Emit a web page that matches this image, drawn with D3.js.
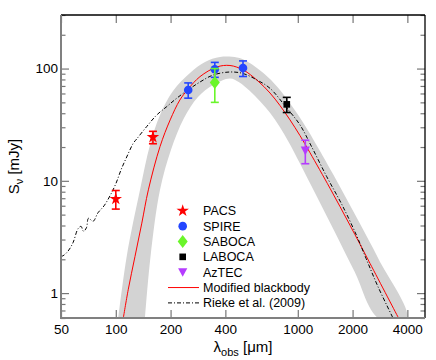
<!DOCTYPE html>
<html>
<head>
<meta charset="utf-8">
<script src="https://cdn.jsdelivr.net/npm/d3@7/dist/d3.min.js"></script>
<style>
body { margin: 0; background: #fff; }
text { font-family: "Liberation Sans", Arial, Helvetica, sans-serif; fill: #000; }
</style>
</head>
<body>
<div id="chart"></div>
<script>
//Datos fotométricos (longitud de onda en micras, flujo y error en mJy)
const pacsWave = [100, 160], pacsFlux = [6.9, 24.5], pacsErr = [1.3, 3.1];
const spireWave = [250, 350, 500], spireFlux = [64.5, 98.5, 101], spireErr = [10, 15, 16];
const sabocaWave = [350], sabocaFlux = [75], sabocaErr = [25];
const labocaWave = [870], labocaFlux = [48], labocaErr = [7.4];
const aztecWave = [1100], aztecFlux = [18.6], aztecErr = [4.4];

//Cuerpo negro modificado
const bbWave = [110, 117, 127.5, 139, 151, 175, 199, 225, 250, 290, 359, 424, 502, 604, 703.5, 798, 906, 1028, 1167, 1503, 1936, 2493, 3576];
const bbFlux = [0.6, 1.07, 2.12, 4.2, 8.31, 20.2, 34.9, 52.5, 65.8, 84.7, 103.3, 106.5, 97.1, 77.5, 60.6, 46.9, 34.9, 25.3, 17.8, 8.59, 4.02, 1.84, 0.6];

//Banda de incertidumbre: borde superior e inferior
const bandUpWave = [103.2, 114.8, 135.9, 154.2, 175, 206.2, 255.7, 309.2, 373.8, 463.4, 522, 654, 771, 879, 1001, 1140, 1295, 1670, 2153, 2773, 3967];
const bandUpFlux = [0.6, 2.12, 8.31, 20.9, 38.6, 63.1, 91.3, 114.4, 126.7, 125.4, 116.8, 89.8, 68.8, 52.6, 38.9, 27.9, 19.6, 9.44, 4.4, 2.02, 0.6];
const bandLowWave = [144.7, 155.2, 175, 201.1, 237.1, 282.9, 342.2, 424, 476, 544, 622, 703.5, 795, 894, 1001, 1266, 1610, 2050, 2776];
const bandLowFlux = [0.6, 2.12, 8.31, 18.9, 36.3, 55.9, 71.4, 81.6, 75.5, 63.3, 50.9, 40.3, 30.3, 22, 15.5, 7.38, 3.42, 1.56, 0.6];

//Plantilla Rieke et al. (2009)
const riekeWave = [50, 51.3, 54.6, 58.2, 62, 64.4, 66.5, 69, 70.8, 75, 79.8, 86.2, 92.9, 100, 106.8, 114.8, 124.8, 130.3, 147.8, 167.9, 190.5, 216.1, 249.3, 290.2, 343.4, 424, 500, 597, 703.5, 869, 1028, 1190, 1442, 1750, 2107, 2371, 2759, 3335];
const riekeFlux = [2.13, 2.15, 2.36, 2.81, 3.74, 3.93, 3.55, 3.82, 4.64, 4.36, 5.19, 5.99, 7.35, 9.4, 12.5, 16.3, 21.6, 23.6, 30.4, 38.6, 45.8, 54.4, 64.5, 75.9, 87.7, 93.2, 90.4, 79.1, 66.7, 44.6, 31.5, 20.2, 10.9, 6.11, 3.24, 2.04, 1.14, 0.6];

//Ejes
const xTicks = [50, 100, 200, 400, 1000, 2000, 4000];
const yMajor = [1, 10, 100];
const yMinor = [0.6, 0.7, 0.8, 0.9, 2, 3, 4, 5, 6, 7, 8, 9, 20, 30, 40, 50, 60, 70, 80, 90, 200, 300];

const legendLabels = ['PACS', 'SPIRE', 'SABOCA', 'LABOCA', 'AzTEC', 'Modified blackbody', 'Rieke et al. (2009)'];

const COLOR_PACS = '#ff0000', COLOR_SPIRE = '#2346ff', COLOR_SABOCA = '#6af52a',
    COLOR_LABOCA = '#000000', COLOR_AZTEC = '#b53cff', COLOR_BAND = '#d3d3d3';

let margin = {top: 15, right: 11, bottom: 42, left: 61},
    width = 436 - margin.left - margin.right,
    height = 360 - margin.top - margin.bottom;

let root = d3.select('#chart')
    .append('svg')
        .attr('width', 436)
        .attr('height', 360);

let svg = root.append('g')
    .attr('transform', 'translate(' + margin.left + ',' + margin.top + ')');

let x = d3.scaleLog().domain([50, 5000]).range([0, width]);
let y = d3.scaleLog().domain([0.6, 300]).range([height, 0]);

svg.append('clipPath').attr('id', 'clip')
    .append('rect').attr('width', width).attr('height', height);

let plot = svg.append('g').attr('clip-path', 'url(#clip)');

let line = d3.line()
    .x(function(d) { return x(d[0]); })
    .y(function(d) { return y(d[1]); })
    .curve(d3.curveCatmullRom);

//Banda gris
let bandPts = d3.zip(bandUpWave, bandUpFlux).concat(d3.zip(bandLowWave, bandLowFlux).reverse());
plot.append('path')
    .attr('d', line(bandPts) + 'Z')
    .attr('fill', COLOR_BAND)
    .attr('stroke', 'none');

//Cuerpo negro
plot.append('path')
    .attr('d', line(d3.zip(bbWave, bbFlux)))
    .attr('fill', 'none')
    .attr('stroke', '#ff0000')
    .attr('stroke-width', 1);

//Rieke
plot.append('path')
    .attr('d', line(d3.zip(riekeWave, riekeFlux)))
    .attr('fill', 'none')
    .attr('stroke', '#000')
    .attr('stroke-width', 1)
    .attr('stroke-dasharray', '4,2,1,2');

//Simbolos
let symStar = d3.symbol(d3.symbolStar, 48)(),
    symCircle = d3.symbol(d3.symbolCircle, 58)(),
    symDiamond = 'M0,-6.5L5,0L0,6.5L-5,0Z',
    symSquare = d3.symbol(d3.symbolSquare, 44)(),
    symTriangle = 'M-4.6,-4L4.6,-4L0,4.6Z';

let series = [
    {wave: pacsWave, flux: pacsFlux, err: pacsErr, color: COLOR_PACS, sym: symStar},
    {wave: spireWave, flux: spireFlux, err: spireErr, color: COLOR_SPIRE, sym: symCircle},
    {wave: sabocaWave, flux: sabocaFlux, err: sabocaErr, color: COLOR_SABOCA, sym: symDiamond},
    {wave: labocaWave, flux: labocaFlux, err: labocaErr, color: COLOR_LABOCA, sym: symSquare},
    {wave: aztecWave, flux: aztecFlux, err: aztecErr, color: COLOR_AZTEC, sym: symTriangle}
];

series.forEach(function(s) {
    let pts = s.wave.map(function(w, i) { return {w: w, f: s.flux[i], e: s.err[i]}; });
    let g = svg.append('g').selectAll('g')
        .data(pts)
        .enter()
        .append('g')
        .attr('transform', function(d) { return 'translate(' + x(d.w) + ',0)'; });

    g.append('line')
        .attr('x1', 0).attr('x2', 0)
        .attr('y1', function(d) { return y(d.f - d.e); })
        .attr('y2', function(d) { return y(d.f + d.e); })
        .attr('stroke', s.color).attr('stroke-width', 1.6);
    g.append('line')
        .attr('x1', -4).attr('x2', 4)
        .attr('y1', function(d) { return y(d.f - d.e); })
        .attr('y2', function(d) { return y(d.f - d.e); })
        .attr('stroke', s.color).attr('stroke-width', 1.6);
    g.append('line')
        .attr('x1', -4).attr('x2', 4)
        .attr('y1', function(d) { return y(d.f + d.e); })
        .attr('y2', function(d) { return y(d.f + d.e); })
        .attr('stroke', s.color).attr('stroke-width', 1.6);
    g.append('path')
        .attr('d', s.sym)
        .attr('transform', function(d) { return 'translate(0,' + y(d.f) + ')'; })
        .attr('fill', s.color);
});

//Ejes
function styleAxis(g) {
    g.select('.domain').remove();
    g.selectAll('.tick line').attr('stroke', '#777').attr('stroke-width', 1.2);
    g.selectAll('.tick text').style('font-size', '13.5px').attr('fill', '#000');
}

let yFormat = function(d) { return yMajor.indexOf(d) >= 0 ? d : ''; };

svg.append('g')
    .attr('transform', 'translate(0,' + height + ')')
    .call(d3.axisBottom(x).tickValues(xTicks).tickFormat(d3.format('d')).tickSize(-8).tickPadding(6))
    .call(styleAxis);

svg.append('g')
    .call(d3.axisTop(x).tickValues(xTicks).tickFormat('').tickSize(-8))
    .call(styleAxis);

svg.append('g')
    .call(d3.axisLeft(y).tickValues(yMajor.concat(yMinor)).tickFormat(yFormat).tickSize(-8).tickPadding(3))
    .call(styleAxis)
    .call(function(g) {
        g.selectAll('.tick line').attr('x2', function(d) { return yMajor.indexOf(d) >= 0 ? 8 : 4.5; });
    });

svg.append('g')
    .attr('transform', 'translate(' + width + ',0)')
    .call(d3.axisRight(y).tickValues(yMajor.concat(yMinor)).tickFormat('').tickSize(-8))
    .call(styleAxis)
    .call(function(g) {
        g.selectAll('.tick line').attr('x2', function(d) { return yMajor.indexOf(d) >= 0 ? -8 : -4.5; });
    });

//Marco
svg.append('line').attr('x1', 0).attr('x2', width).attr('y1', 0).attr('y2', 0).attr('stroke', '#000').attr('stroke-width', 1.3);
svg.append('line').attr('x1', width).attr('x2', width).attr('y1', 0).attr('y2', height).attr('stroke', '#000').attr('stroke-width', 1.3);
svg.append('line').attr('x1', 0).attr('x2', 0).attr('y1', 0).attr('y2', height + 1).attr('stroke', '#808080').attr('stroke-width', 2);
svg.append('line').attr('x1', -1).attr('x2', width).attr('y1', height).attr('y2', height).attr('stroke', '#808080').attr('stroke-width', 2);

//Títulos de ejes
let xt = root.append('text')
    .attr('x', margin.left + width / 2)
    .attr('y', 351.5)
    .attr('text-anchor', 'middle')
    .style('font-size', '15px');
xt.append('tspan').text('λ');
xt.append('tspan').attr('dy', 4).style('font-size', '11px').text('obs');
xt.append('tspan').attr('dy', -4).text(' [μm]');

let yt = root.append('text')
    .attr('transform', 'translate(18.5,' + (margin.top + height / 2) + ') rotate(-90)')
    .attr('text-anchor', 'middle')
    .style('font-size', '15px');
yt.append('tspan').text('S');
yt.append('tspan').attr('dy', 4).style('font-size', '11px').text('ν');
yt.append('tspan').attr('dy', -4).text(' [mJy]');

//Leyenda
let legSyms = [symStar, symCircle, symDiamond, symSquare, symTriangle];
let legColors = [COLOR_PACS, COLOR_SPIRE, COLOR_SABOCA, COLOR_LABOCA, COLOR_AZTEC];
let legend = root.append('g');

legendLabels.forEach(function(label, i) {
    let ly = 210.8 + i * 15.35;
    if (i < 5) {
        legend.append('path')
            .attr('d', legSyms[i])
            .attr('transform', 'translate(182.7,' + ly + ')')
            .attr('fill', legColors[i]);
    } else {
        legend.append('line')
            .attr('x1', 168).attr('x2', 199)
            .attr('y1', ly).attr('y2', ly)
            .attr('stroke', i == 5 ? '#ff0000' : '#000')
            .attr('stroke-width', 1)
            .attr('stroke-dasharray', i == 5 ? null : '4,2,1,2');
    }
    legend.append('text')
        .attr('x', 203)
        .attr('y', ly)
        .attr('dy', '0.36em')
        .style('font-size', '12.5px')
        .text(label);
});
</script>
</body>
</html>
